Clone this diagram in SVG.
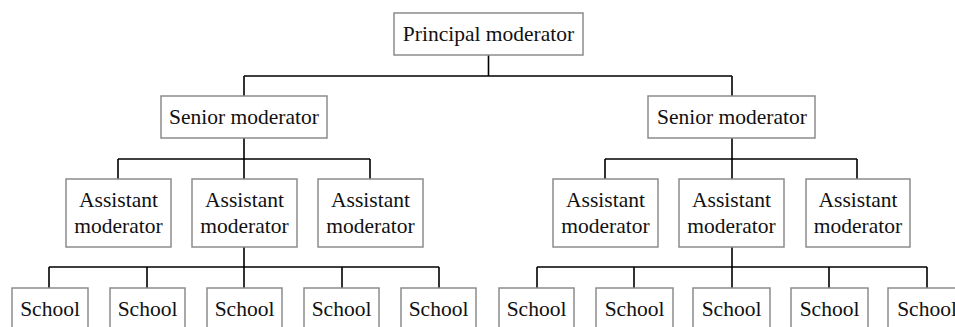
<svg xmlns="http://www.w3.org/2000/svg" width="955" height="327" viewBox="0 0 955 327">
<style>
.box{fill:#fff;stroke:#8c8c8c;stroke-width:1.5}
.t{font-family:"Liberation Serif","Times New Roman",serif;font-size:21.5px;fill:#111;text-anchor:middle}
.ln{fill:none;stroke:#000;stroke-width:1.6}
</style>
<rect width="955" height="327" fill="#fff"/>
<g id="connectors" class="ln">
<path d="M488.5,55V76M244,76H732M244,76V96M732,76V96"/>
<path d="M244,138V159M118,159H370M118,159V179M244,159V179M370,159V179"/>
<path d="M732,138V159M605,159H857M605,159V179M732,159V179M857,159V179"/>
<path d="M244,247V267M49,267H439M49,267V288M147,267V288M244,267V288M342,267V288M439,267V288"/>
<path d="M732,247V267M537,267H927M537,267V288M634,267V288M732,267V288M829,267V288M927,267V288"/>
</g>
<g id="principal"><rect class="box" x="394" y="13" width="189" height="42"/><text class="t" x="488.5" y="41">Principal moderator</text></g>
<g id="senior1"><rect class="box" x="161" y="96" width="166" height="42"/><text class="t" x="244" y="124">Senior moderator</text></g>
<g id="senior2"><rect class="box" x="648" y="96" width="167" height="42"/><text class="t" x="732" y="124">Senior moderator</text></g>
<g id="asst1"><rect class="box" x="66" y="179" width="105" height="68"/><text class="t" x="118.5" y="207">Assistant</text><text class="t" x="118.5" y="233">moderator</text></g>
<g id="asst2"><rect class="box" x="192" y="179" width="105" height="68"/><text class="t" x="244.5" y="207">Assistant</text><text class="t" x="244.5" y="233">moderator</text></g>
<g id="asst3"><rect class="box" x="318" y="179" width="105" height="68"/><text class="t" x="370.5" y="207">Assistant</text><text class="t" x="370.5" y="233">moderator</text></g>
<g id="asst4"><rect class="box" x="553" y="179" width="105" height="68"/><text class="t" x="605.5" y="207">Assistant</text><text class="t" x="605.5" y="233">moderator</text></g>
<g id="asst5"><rect class="box" x="679" y="179" width="105" height="68"/><text class="t" x="731.5" y="207">Assistant</text><text class="t" x="731.5" y="233">moderator</text></g>
<g id="asst6"><rect class="box" x="806" y="179" width="104" height="68"/><text class="t" x="858" y="207">Assistant</text><text class="t" x="858" y="233">moderator</text></g>
<g id="school1"><rect class="box" x="12" y="288" width="76" height="45"/><text class="t" x="50" y="316">School</text></g>
<g id="school2"><rect class="box" x="110" y="288" width="75" height="45"/><text class="t" x="147.5" y="316">School</text></g>
<g id="school3"><rect class="box" x="207" y="288" width="75" height="45"/><text class="t" x="244.5" y="316">School</text></g>
<g id="school4"><rect class="box" x="304" y="288" width="75" height="45"/><text class="t" x="341.5" y="316">School</text></g>
<g id="school5"><rect class="box" x="401" y="288" width="75" height="45"/><text class="t" x="438.5" y="316">School</text></g>
<g id="school6"><rect class="box" x="499" y="288" width="75" height="45"/><text class="t" x="536.5" y="316">School</text></g>
<g id="school7"><rect class="box" x="596" y="288" width="77" height="45"/><text class="t" x="634.5" y="316">School</text></g>
<g id="school8"><rect class="box" x="693" y="288" width="77" height="45"/><text class="t" x="731.5" y="316">School</text></g>
<g id="school9"><rect class="box" x="791" y="288" width="77" height="45"/><text class="t" x="829.5" y="316">School</text></g>
<g id="school10"><rect class="box" x="888" y="288" width="77" height="45"/><text class="t" x="927" y="316">School</text></g>
</svg>
